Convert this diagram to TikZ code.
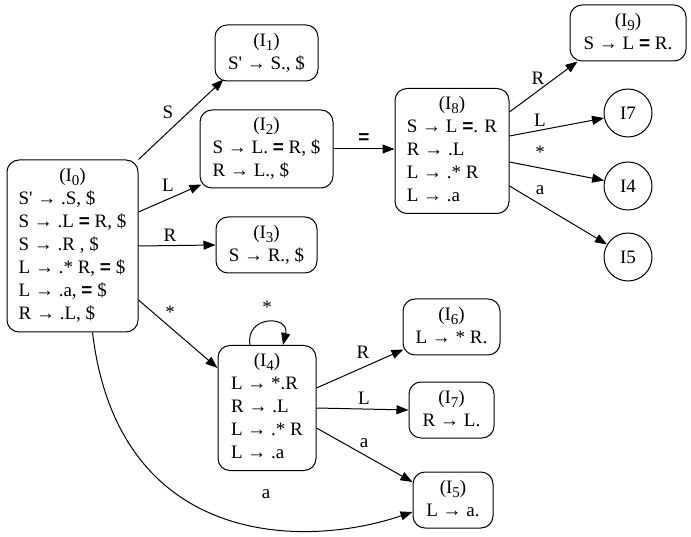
\documentclass[tikz,border=0pt]{standalone}
\usepackage{fontspec}
\setmainfont{Liberation Serif}
\newfontfamily\eqfont{Liberation Sans}
\usetikzlibrary{arrows.meta}
\newcommand{\myeq}{{\eqfont\bfseries =}}
\newcommand{\ttl}[1]{\multicolumn{1}{@{}c@{}}{(I\raisebox{-4pt}{\fontsize{15}{15}\selectfont #1})}}
\newcommand{\pr}{\textquotesingle}
\begin{document}
\begin{tikzpicture}[x=1pt,y=-1pt,
  every node/.style={font=\fontsize{19}{23}\selectfont, inner sep=0pt},
  state/.style={draw, rounded corners=12pt, line width=1pt, align=center},
  circ/.style={draw, circle, minimum size=48pt, line width=1pt},
  lbl/.style={},
  edge/.style={line width=1pt, -{Triangle[length=12pt,width=9pt]}}]
\useasboundingbox (0,0) rectangle (691,537);

% states
\node[state, minimum width=131pt, minimum height=172pt] (i0) at (72.5,246)
 {\begin{tabular}{@{}l@{}}\ttl{0}\\ S\pr{} → .S, \$\\ S → .L \myeq{} R, \$\\ S → .R , \$\\ L → .* R, \myeq{} \$\\ L → .a, \myeq{} \$\\ R → .L, \$\end{tabular}};
\node[state, minimum width=103pt, minimum height=56pt] (i1) at (266.5,53)
 {\begin{tabular}{@{}l@{}}\ttl{1}\\ S\pr{} → S., \$\end{tabular}};
\node[state, minimum width=133pt, minimum height=78pt] (i2) at (266.5,149)
 {\begin{tabular}{@{}l@{}}\ttl{2}\\ S → L. \myeq{} R, \$\\ R → L., \$\end{tabular}};
\node[state, minimum width=101pt, minimum height=56pt] (i3) at (266.5,245)
 {\begin{tabular}{@{}l@{}}\ttl{3}\\ S → R., \$\end{tabular}};
\node[state, minimum width=114pt, minimum height=125pt] (i8) at (452,151)
 {\begin{tabular}{@{}l@{}}\ttl{8}\\ S → L \myeq. R\\ R → .L\\ L → .* R\\ L → .a\end{tabular}};
\node[state, minimum width=116pt, minimum height=56pt] (i9) at (628,33)
 {\begin{tabular}{@{}l@{}}\ttl{9}\\ S → L \myeq{} R.\end{tabular}};
\node[circ] (c7) at (628,113) {I7};
\node[circ] (c4) at (628,186) {I4};
\node[circ] (c5) at (628,257) {I5};
\node[state, minimum width=98pt, minimum height=125pt] (i4) at (267,408)
 {\begin{tabular}{@{}l@{}}\ttl{4}\\ L → *.R\\ R → .L\\ L → .* R\\ L → .a\end{tabular}};
\node[state, minimum width=97pt, minimum height=56pt] (i6) at (451.5,327)
 {\begin{tabular}{@{}l@{}}\ttl{6}\\ L → * R.\end{tabular}};
\node[state, minimum width=85pt, minimum height=56pt] (i7) at (451.5,410)
 {\begin{tabular}{@{}l@{}}\ttl{7}\\ R → L.\end{tabular}};
\node[state, minimum width=80pt, minimum height=56pt] (i5) at (453,500)
 {\begin{tabular}{@{}l@{}}\ttl{5}\\ L → a.\end{tabular}};

% edges
\draw[edge] (i0.north east) -- ([shift={(9,-2)}]i1.south west);
\draw[edge] ([shift={(0,-34)}]i0.east) -- ([shift={(2,-4)}]i2.south west);
\draw[edge] (i0.east) -- (i3.west);
\draw[edge] ([shift={(0,54)}]i0.east) -- ([shift={(0,-40)}]i4.west);
\draw[edge] ([shift={(20,0)}]i0.south) .. controls (118,545) and (300,550) .. ([shift={(0,12)}]i5.west);
\draw[edge] (i2.east) -- (i2.east -| i8.west);
\draw[edge] ([shift={(0,-39)}]i8.east) -- ([shift={(8,0)}]i9.south west);
\draw[edge] ([shift={(0,-15)}]i8.east) -- (c7.192);
\draw[edge] ([shift={(0,11)}]i8.east) -- (c4.167);
\draw[edge] ([shift={(0,35)}]i8.east) -- (c5.149);
\draw[edge] ([shift={(-17,0)}]i4.north) .. controls +(-5,-30) and +(7,-30) .. ([shift={(16,0)}]i4.north);
\draw[edge] ([shift={(0,-20)}]i4.east) -- ([shift={(1,-6)}]i6.south west);
\draw[edge] (i4.east) -- (i7.west);
\draw[edge] ([shift={(0,20)}]i4.east) -- ([shift={(0,-18)}]i5.west);

% labels
\node[lbl] (lS) at (168,112) {S};
\node[lbl] (lL) at (168,185) {L};
\node[lbl] (lR) at (170,235) {R};
\node[lbl] (lst) at (170,312) {*};
\node[lbl] (la) at (266,494) {a};
\node[lbl] (leq) at (364,139) {\myeq};
\node[lbl] (lloop) at (267,307) {*};
\node[lbl] (lR4) at (363,352) {R};
\node[lbl] (lL4) at (364,398) {L};
\node[lbl] (la4) at (364,443) {a};
\node[lbl] (lR8) at (538,78) {R};
\node[lbl] (lL8) at (540,120) {L};
\node[lbl] (lst8) at (540,152) {*};
\node[lbl] (la8) at (540,190) {a};
\end{tikzpicture}
\end{document}
